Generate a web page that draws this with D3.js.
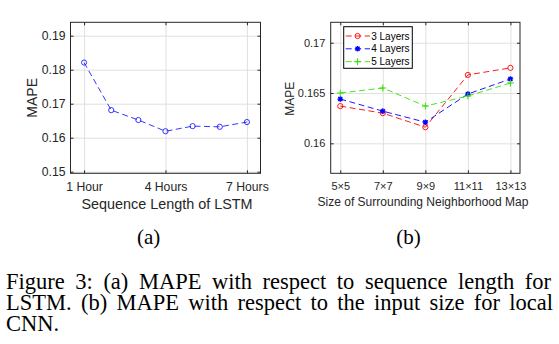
<!DOCTYPE html>
<html><head><meta charset="utf-8">
<script src="https://cdn.jsdelivr.net/npm/d3@7"></script>
<style>
body{margin:0;background:#fff}
svg{display:block}
</style>
</head><body>
<svg id="fig" width="559" height="344"></svg>
<script>
// Panel (a): MAPE vs. LSTM sequence length
const seqHours = [1, 2, 3, 4, 5, 6, 7];
const lstmMape = [0.1821, 0.1681, 0.1652, 0.1619, 0.1634, 0.1632, 0.1646];
const seqTickValues = [1, 4, 7];
const seqTickLabels = ["1 Hour", "4 Hours", "7 Hours"];
const lstmYTicks = [0.15, 0.16, 0.17, 0.18, 0.19];

// Panel (b): MAPE vs. neighborhood map size for the local CNN
const mapSizes = ["5×5", "7×7", "9×9", "11×11", "13×13"];
const layers3 = [0.1637, 0.1630, 0.1616, 0.1668, 0.1675];
const layers4 = [0.1644, 0.1632, 0.1621, 0.1649, 0.1664];
const layers5 = [0.1650, 0.1655, 0.1637, 0.1647, 0.1660];
const cnnYTicks = [0.16, 0.165, 0.17];
const seriesNames = ["3 Layers", "4 Layers", "5 Layers"];

const captionLines = [
  "Figure 3: (a) MAPE with respect to sequence length for",
  "LSTM. (b) MAPE with respect to the input size for local",
  "CNN."
];

const svg = d3.select("#fig");
const INK = "#262626";
const GRID = "#dcdcdc";
const SANS = "'Liberation Sans', Arial, sans-serif";
const SERIF = "'Liberation Serif', 'Times New Roman', serif";

function frame(g, x, y, opts) {
  const [x0, x1] = x.range();
  const [y1, y0] = y.range();
  const w = x1 - x0, h = y1 - y0;
  // grid
  g.append("g").attr("transform", `translate(0,${y1})`)
    .call(d3.axisBottom(x).tickValues(opts.xt).tickSize(-h).tickFormat(""))
    .call(s => s.select(".domain").remove())
    .call(s => s.selectAll("line").attr("stroke", GRID).attr("stroke-width", 0.9));
  g.append("g").attr("transform", `translate(${x0},0)`)
    .call(d3.axisLeft(y).tickValues(opts.yt).tickSize(-w).tickFormat(""))
    .call(s => s.select(".domain").remove())
    .call(s => s.selectAll("line").attr("stroke", GRID).attr("stroke-width", 0.9));
  // labelled axes with inward ticks
  const bottom = g.append("g").attr("transform", `translate(0,${y1})`)
    .call(d3.axisBottom(x).tickValues(opts.xt).tickFormat(opts.xf)
      .tickSizeInner(-3).tickSizeOuter(0).tickPadding(opts.xpad));
  const left = g.append("g").attr("transform", `translate(${x0},0)`)
    .call(d3.axisLeft(y).tickValues(opts.yt).tickFormat(d => String(d))
      .tickSizeInner(-3).tickSizeOuter(0).tickPadding(opts.ypad));
  const top = g.append("g").attr("transform", `translate(0,${y0})`)
    .call(d3.axisTop(x).tickValues(opts.xt).tickFormat("").tickSizeInner(-3).tickSizeOuter(0));
  const right = g.append("g").attr("transform", `translate(${x1},0)`)
    .call(d3.axisRight(y).tickValues(opts.yt).tickFormat("").tickSizeInner(-3).tickSizeOuter(0));
  [bottom, left, top, right].forEach(a => {
    a.select(".domain").remove();
    a.selectAll("line").attr("stroke", INK);
    a.selectAll("text").attr("fill", INK).style("font-family", SANS).style("font-size", opts.tickFont + "px");
  });
  g.append("rect").attr("x", x0).attr("y", y0).attr("width", w).attr("height", h)
    .attr("fill", "none").attr("stroke", INK).attr("stroke-width", 1);
}

function starPath(r) {
  const d = r * 0.72;
  return `M${-r},0L${r},0M0,${-r}L0,${r}M${-d},${-d}L${d},${d}M${-d},${d}L${d},${-d}`;
}
function plusPath(r) {
  return `M${-r},0L${r},0M0,${-r}L0,${r}`;
}

function drawMarkers(g, pts, kind, color) {
  if (kind === "circle") {
    g.selectAll(null).data(pts).join("circle")
      .attr("cx", d => d[0]).attr("cy", d => d[1]).attr("r", 2.6)
      .attr("fill", "none").attr("stroke", color).attr("stroke-width", 0.9);
  } else {
    const p = kind === "star" ? starPath(2.8) : plusPath(3.4);
    g.selectAll(null).data(pts).join("path")
      .attr("transform", d => `translate(${d[0]},${d[1]})`)
      .attr("d", p).attr("fill", "none").attr("stroke", color).attr("stroke-width", kind === "star" ? 1.3 : 1);
  }
}

// ---------- panel (a) ----------
{
  const x = d3.scaleLinear().domain([0.5, 7.5]).range([70.5, 260.5]);
  const y = d3.scaleLinear().domain([0.14953, 0.19394]).range([173.3, 22.3]);
  const g = svg.append("g");
  frame(g, x, y, {
    xt: seqTickValues, yt: lstmYTicks,
    xf: d => seqTickLabels[seqTickValues.indexOf(d)],
    xpad: 9, ypad: 5, tickFont: 12.2
  });
  const pts = seqHours.map((h, i) => [x(h), y(lstmMape[i])]);
  g.append("path").attr("d", d3.line()(pts)).attr("fill", "none")
    .attr("stroke", "#2020ff").attr("stroke-width", 0.9).attr("stroke-dasharray", "6,3.5");
  drawMarkers(g, pts, "circle", "#2020ff");
  g.append("text").attr("transform", `translate(36.5,${(y.range()[0] + y.range()[1]) / 2}) rotate(-90)`)
    .attr("text-anchor", "middle").attr("fill", INK)
    .style("font-family", SANS).style("font-size", "14px").text("MAPE");
  g.append("text").attr("x", (x.range()[0] + x.range()[1]) / 2 + 1.5).attr("y", 208.5)
    .attr("text-anchor", "middle").attr("fill", INK)
    .style("font-family", SANS).style("font-size", "14.4px").text("Sequence Length of LSTM");
}

// ---------- panel (b) ----------
{
  const idx = mapSizes.map((_, i) => i + 1);
  const x = d3.scaleLinear().domain([0.775, 5.225]).range([330.7, 520]);
  const y = d3.scaleLinear().domain([0.15702, 0.17203]).range([173.3, 22.3]);
  const g = svg.append("g");
  frame(g, x, y, {
    xt: idx, yt: cnnYTicks,
    xf: d => mapSizes[d - 1],
    xpad: 9, ypad: 5.4, tickFont: 11
  });
  const series = [
    { name: seriesNames[0], values: layers3, color: "#ff0000", marker: "circle" },
    { name: seriesNames[1], values: layers4, color: "#0000ff", marker: "star" },
    { name: seriesNames[2], values: layers5, color: "#33e000", marker: "plus" }
  ];
  series.forEach(s => {
    const pts = idx.map((k, i) => [x(k), y(s.values[i])]);
    g.append("path").attr("d", d3.line()(pts)).attr("fill", "none")
      .attr("stroke", s.color).attr("stroke-width", 0.9).attr("stroke-dasharray", "6,3.5");
    drawMarkers(g, pts, s.marker, s.color);
  });
  // legend
  const lg = g.append("g");
  lg.append("rect").attr("x", 343.7).attr("y", 26.7).attr("width", 68.6).attr("height", 41.6)
    .attr("fill", "#fff").attr("stroke", "#000").attr("stroke-width", 1);
  const rowY = [36, 48.8, 61.7];
  series.forEach((s, i) => {
    const ry = rowY[i];
    lg.append("line").attr("x1", 345.7).attr("x2", 370).attr("y1", ry).attr("y2", ry)
      .attr("stroke", s.color).attr("stroke-width", 0.9).attr("stroke-dasharray", "6,3.5");
    drawMarkers(lg, [[357.6, ry]], s.marker, s.color);
    lg.append("text").attr("x", 371.2).attr("y", ry + 3.6).attr("fill", "#000")
      .style("font-family", SANS).style("font-size", "10px").text(s.name);
  });
  g.append("text").attr("transform", `translate(294,${(y.range()[0] + y.range()[1]) / 2 + 1}) rotate(-90)`)
    .attr("text-anchor", "middle").attr("fill", INK)
    .style("font-family", SANS).style("font-size", "12px").text("MAPE");
  g.append("text").attr("x", 423).attr("y", 206.3)
    .attr("text-anchor", "middle").attr("fill", INK)
    .style("font-family", SANS).style("font-size", "12px").text("Size of Surrounding Neighborhood Map");
}

// ---------- sub-captions and caption ----------
svg.append("text").attr("x", 148.7).attr("y", 244).attr("text-anchor", "middle")
  .style("font-family", SERIF).style("font-size", "21px").text("(a)");
svg.append("text").attr("x", 408.5).attr("y", 244).attr("text-anchor", "middle")
  .style("font-family", SERIF).style("font-size", "21px").text("(b)");

function justifiedLine(text, x0, x1, yb, justify) {
  const words = text.split(" ");
  const g = svg.append("g").style("font-family", SERIF).style("font-size", "22.5px").attr("fill", "#000");
  const nodes = words.map(w => g.append("text").attr("y", yb).text(w));
  const widths = nodes.map(n => n.node().getComputedTextLength());
  const total = d3.sum(widths);
  const gap = justify && words.length > 1 ? (x1 - x0 - total) / (words.length - 1) : 5.6;
  let cx = x0;
  nodes.forEach((n, i) => { n.attr("x", cx); cx += widths[i] + gap; });
}
justifiedLine(captionLines[0], 6, 551, 289.3, true);
justifiedLine(captionLines[1], 6, 553, 310.3, true);
justifiedLine(captionLines[2], 6, 553, 331.3, false);
</script>
</body></html>
